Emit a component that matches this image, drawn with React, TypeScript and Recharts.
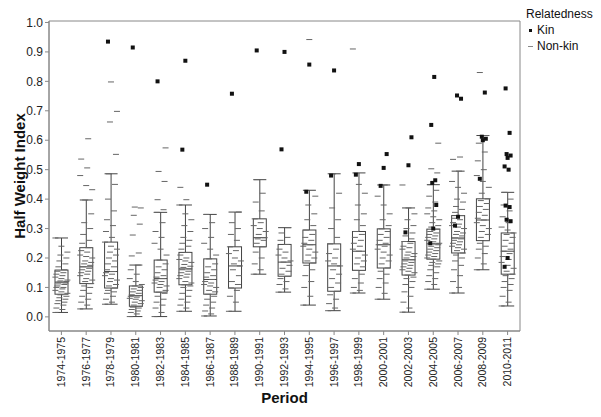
import React from 'react';
import { ComposedChart, Bar, Scatter, XAxis, YAxis, Legend, ReferenceArea } from 'recharts';

document.body.style.margin = '0';

const FONT = '"Liberation Sans", Arial, sans-serif';

const periods = [
  '1974-1975', '1976-1977', '1978-1979', '1980-1981', '1982-1983', '1984-1985', '1986-1987',
  '1988-1989', '1990-1991', '1992-1993', '1994-1995', '1996-1997', '1998-1999', '2000-2001',
  '2002-2003', '2004-2005', '2006-2007', '2008-2009', '2010-2011',
];

// box plot summary per period
const whiskerLow = [0.015, 0.027, 0.043, 0.001, 0.001, 0.019, 0.003, 0.019, 0.145, 0.084, 0.04, 0.021, 0.081, 0.06, 0.016, 0.094, 0.081, 0.16, 0.037];
const quart1 = [0.077, 0.113, 0.098, 0.036, 0.084, 0.109, 0.077, 0.098, 0.238, 0.138, 0.183, 0.087, 0.158, 0.166, 0.142, 0.196, 0.217, 0.259, 0.145];
const medians = [0.118, 0.17, 0.154, 0.072, 0.13, 0.163, 0.127, 0.173, 0.269, 0.186, 0.245, 0.173, 0.223, 0.245, 0.194, 0.248, 0.268, 0.329, 0.223];
const quart3 = [0.159, 0.235, 0.254, 0.105, 0.193, 0.219, 0.197, 0.238, 0.333, 0.246, 0.295, 0.248, 0.29, 0.299, 0.256, 0.298, 0.344, 0.401, 0.285];
const whiskerHigh = [0.268, 0.397, 0.486, 0.176, 0.355, 0.38, 0.348, 0.356, 0.466, 0.303, 0.43, 0.486, 0.489, 0.448, 0.37, 0.449, 0.495, 0.616, 0.423];

// non-kin dyads (grey dashes)
const nonKin: number[][] = [
  [0.015, 0.025, 0.03, 0.04, 0.045, 0.05, 0.055, 0.06, 0.065, 0.07, 0.075, 0.08, 0.085, 0.09, 0.095, 0.1, 0.1, 0.105, 0.11, 0.112, 0.115, 0.118, 0.12, 0.122, 0.125, 0.13, 0.135, 0.14, 0.145, 0.15, 0.155, 0.16, 0.17, 0.18, 0.19, 0.2, 0.21, 0.22, 0.24, 0.268],
  [0.027, 0.04, 0.05, 0.06, 0.07, 0.08, 0.09, 0.1, 0.105, 0.113, 0.12, 0.125, 0.13, 0.14, 0.145, 0.15, 0.155, 0.16, 0.165, 0.17, 0.175, 0.18, 0.185, 0.19, 0.2, 0.205, 0.21, 0.22, 0.225, 0.235, 0.25, 0.26, 0.28, 0.3, 0.32, 0.35, 0.397, 0.432, 0.446, 0.48, 0.506, 0.536, 0.605],
  [0.043, 0.05, 0.06, 0.07, 0.08, 0.085, 0.09, 0.098, 0.105, 0.11, 0.12, 0.125, 0.13, 0.14, 0.145, 0.15, 0.154, 0.16, 0.17, 0.18, 0.19, 0.2, 0.21, 0.22, 0.23, 0.24, 0.254, 0.27, 0.29, 0.31, 0.33, 0.36, 0.4, 0.45, 0.486, 0.552, 0.662, 0.698, 0.798],
  [0.001, 0.01, 0.015, 0.02, 0.025, 0.03, 0.033, 0.036, 0.04, 0.045, 0.05, 0.055, 0.06, 0.063, 0.067, 0.07, 0.072, 0.075, 0.08, 0.085, 0.09, 0.095, 0.1, 0.105, 0.11, 0.12, 0.13, 0.145, 0.16, 0.176, 0.207, 0.217, 0.278, 0.315, 0.345, 0.37, 0.373],
  [0.001, 0.015, 0.03, 0.04, 0.05, 0.06, 0.07, 0.08, 0.084, 0.09, 0.1, 0.105, 0.11, 0.115, 0.12, 0.125, 0.13, 0.135, 0.14, 0.15, 0.16, 0.17, 0.18, 0.193, 0.21, 0.23, 0.25, 0.27, 0.29, 0.32, 0.355, 0.364, 0.398, 0.46, 0.494, 0.574],
  [0.019, 0.03, 0.04, 0.05, 0.06, 0.07, 0.08, 0.09, 0.1, 0.105, 0.109, 0.115, 0.12, 0.13, 0.135, 0.14, 0.145, 0.15, 0.155, 0.16, 0.163, 0.168, 0.172, 0.178, 0.185, 0.19, 0.195, 0.2, 0.21, 0.219, 0.23, 0.24, 0.25, 0.26, 0.27, 0.29, 0.31, 0.33, 0.35, 0.38, 0.398, 0.44],
  [0.003, 0.01, 0.02, 0.03, 0.04, 0.05, 0.06, 0.07, 0.077, 0.085, 0.09, 0.1, 0.105, 0.11, 0.115, 0.12, 0.127, 0.135, 0.14, 0.15, 0.16, 0.17, 0.18, 0.197, 0.21, 0.23, 0.25, 0.27, 0.3, 0.32, 0.348],
  [0.019, 0.05, 0.07, 0.09, 0.098, 0.11, 0.12, 0.14, 0.16, 0.173, 0.18, 0.19, 0.2, 0.215, 0.225, 0.238, 0.26, 0.28, 0.3, 0.32, 0.356],
  [0.145, 0.16, 0.18, 0.2, 0.22, 0.238, 0.25, 0.26, 0.265, 0.269, 0.28, 0.29, 0.3, 0.31, 0.32, 0.333, 0.36, 0.39, 0.42, 0.466],
  [0.084, 0.095, 0.11, 0.12, 0.13, 0.138, 0.145, 0.155, 0.165, 0.175, 0.186, 0.19, 0.2, 0.21, 0.22, 0.23, 0.246, 0.26, 0.27, 0.285, 0.303],
  [0.04, 0.07, 0.1, 0.12, 0.14, 0.16, 0.175, 0.183, 0.19, 0.2, 0.21, 0.22, 0.23, 0.24, 0.245, 0.25, 0.26, 0.27, 0.28, 0.295, 0.31, 0.33, 0.35, 0.38, 0.41, 0.942],
  [0.021, 0.03, 0.045, 0.06, 0.075, 0.087, 0.1, 0.115, 0.13, 0.145, 0.16, 0.173, 0.18, 0.19, 0.2, 0.215, 0.23, 0.248, 0.27, 0.3, 0.33, 0.37, 0.42, 0.486],
  [0.081, 0.09, 0.1, 0.115, 0.13, 0.145, 0.158, 0.17, 0.18, 0.19, 0.2, 0.21, 0.223, 0.23, 0.24, 0.25, 0.26, 0.27, 0.28, 0.29, 0.31, 0.33, 0.35, 0.38, 0.42, 0.45, 0.91],
  [0.06, 0.08, 0.1, 0.115, 0.13, 0.145, 0.155, 0.166, 0.18, 0.19, 0.2, 0.21, 0.22, 0.23, 0.24, 0.245, 0.25, 0.26, 0.27, 0.28, 0.29, 0.299, 0.31, 0.33, 0.35, 0.38, 0.41, 0.448],
  [0.016, 0.03, 0.05, 0.07, 0.085, 0.1, 0.11, 0.12, 0.13, 0.135, 0.142, 0.15, 0.155, 0.16, 0.165, 0.17, 0.175, 0.18, 0.185, 0.19, 0.194, 0.2, 0.205, 0.21, 0.215, 0.22, 0.23, 0.235, 0.24, 0.25, 0.256, 0.265, 0.275, 0.285, 0.3, 0.31, 0.33, 0.35, 0.37, 0.448],
  [0.094, 0.11, 0.12, 0.13, 0.14, 0.15, 0.16, 0.17, 0.175, 0.18, 0.185, 0.19, 0.196, 0.2, 0.205, 0.21, 0.215, 0.22, 0.225, 0.23, 0.235, 0.24, 0.245, 0.248, 0.25, 0.255, 0.26, 0.265, 0.27, 0.275, 0.28, 0.285, 0.29, 0.298, 0.305, 0.31, 0.32, 0.33, 0.34, 0.35, 0.36, 0.37, 0.39, 0.41, 0.43, 0.449, 0.489, 0.503, 0.59],
  [0.081, 0.1, 0.12, 0.14, 0.16, 0.175, 0.19, 0.2, 0.21, 0.217, 0.225, 0.23, 0.235, 0.24, 0.245, 0.25, 0.255, 0.26, 0.265, 0.268, 0.275, 0.28, 0.285, 0.29, 0.3, 0.305, 0.31, 0.315, 0.32, 0.33, 0.335, 0.344, 0.355, 0.365, 0.375, 0.39, 0.4, 0.42, 0.44, 0.46, 0.495, 0.535, 0.543],
  [0.16, 0.18, 0.2, 0.215, 0.23, 0.24, 0.25, 0.259, 0.27, 0.28, 0.29, 0.3, 0.31, 0.32, 0.329, 0.335, 0.345, 0.355, 0.365, 0.375, 0.385, 0.395, 0.401, 0.42, 0.44, 0.46, 0.48, 0.5, 0.53, 0.56, 0.59, 0.616, 0.83],
  [0.037, 0.05, 0.07, 0.09, 0.1, 0.11, 0.12, 0.13, 0.14, 0.145, 0.155, 0.165, 0.175, 0.185, 0.195, 0.205, 0.215, 0.223, 0.23, 0.24, 0.25, 0.26, 0.27, 0.28, 0.285, 0.295, 0.305, 0.32, 0.34, 0.36, 0.38, 0.4, 0.423],
];

// kin dyads (black squares)
const kin: number[][] = [
  [], [], [0.935], [0.915], [0.8], [0.568, 0.87], [0.449], [0.758], [0.905], [0.569, 0.9],
  [0.425, 0.857], [0.48, 0.837], [0.483, 0.519], [0.445, 0.506, 0.553],
  [0.287, 0.515, 0.61], [0.25, 0.3, 0.38, 0.455, 0.464, 0.652, 0.815],
  [0.31, 0.34, 0.741, 0.752], [0.469, 0.6, 0.605, 0.612, 0.762],
  [0.17, 0.2, 0.325, 0.33, 0.373, 0.378, 0.5, 0.511, 0.54, 0.548, 0.553, 0.625, 0.776],
];

const yDomain = [-0.048, 1.005];
const yTicks = [0, 0.1, 0.2, 0.3, 0.4, 0.5, 0.6, 0.7, 0.8, 0.9, 1.0];

const boxData = periods.map((period, k) => ({
  period,
  range: [whiskerLow[k], whiskerHigh[k]],
  lo: whiskerLow[k],
  q1: quart1[k],
  med: medians[k],
  q3: quart3[k],
  hi: whiskerHigh[k],
}));

const nonKinPoints = periods.flatMap((period, k) => nonKin[k].map((value, i) => ({ period, value, i })));
const kinPoints = periods.flatMap((period, k) => kin[k].map((value, i) => ({ period, value, i })));

const BoxShape = (props: any) => {
  const { x, y, width, height, payload } = props;
  const k = height / (payload.hi - payload.lo);
  const py = (v: number) => y + (payload.hi - v) * k;
  const cx = x + width / 2;
  return (
    <g stroke="#444" strokeWidth={1} fill="none">
      <line x1={cx} x2={cx} y1={py(payload.hi)} y2={py(payload.q3)} />
      <line x1={cx} x2={cx} y1={py(payload.q1)} y2={py(payload.lo)} />
      <line x1={x} x2={x + width} y1={py(payload.hi)} y2={py(payload.hi)} />
      <line x1={x} x2={x + width} y1={py(payload.lo)} y2={py(payload.lo)} />
      <rect x={x} y={py(payload.q3)} width={width} height={py(payload.q1) - py(payload.q3)} />
      <line x1={x} x2={x + width} y1={py(payload.med)} y2={py(payload.med)} />
    </g>
  );
};

const DashShape = (props: any) => {
  const { cx, cy, payload } = props;
  const off = ((payload.i * 7) % 13) - 6;
  return <rect x={cx + off - 3} y={cy - 0.5} width={6} height={1} fill="#666" />;
};

const KinShape = (props: any) => {
  const { cx, cy, payload } = props;
  const off = ((payload.i * 3) % 7) - 3;
  return <rect x={cx + off - 2} y={cy - 2} width={4} height={4} fill="#111" />;
};

const PeriodTick = ({ x, y, payload }: any) => (
  <text
    x={x}
    y={y}
    transform={`rotate(-90, ${x}, ${y})`}
    textAnchor="end"
    dy={3.5}
    fontSize={10.5}
    fontFamily={FONT}
    fill="#222"
  >
    {payload.value}
  </text>
);

const LegendBox = () => (
  <div style={{ fontFamily: FONT, fontSize: 12, color: '#111', lineHeight: '16px' }}>
    <div>Relatedness</div>
    <div style={{ display: 'flex', alignItems: 'center' }}>
      <span style={{ display: 'inline-block', width: 3, height: 3, background: '#111', margin: '0 5px 0 3px' }} />
      Kin
    </div>
    <div style={{ display: 'flex', alignItems: 'center' }}>
      <span style={{ display: 'inline-block', width: 5, height: 1, background: '#888', margin: '0 4px 0 2px' }} />
      Non-kin
    </div>
  </div>
);

export default function App() {
  return (
    <ComposedChart
      width={601}
      height={417}
      data={boxData}
      margin={{ top: 21, right: 81, left: 0, bottom: 0 }}
      style={{ background: '#fff' }}
    >
      <XAxis
        dataKey="period"
        allowDuplicatedCategory={false}
        interval={0}
        height={86}
        tick={<PeriodTick />}
        tickSize={4}
        tickMargin={2}
        axisLine={{ stroke: '#888' }}
        tickLine={{ stroke: '#888' }}
        label={{
          content: ({ viewBox }: any) => (
            <text
              x={viewBox.x + viewBox.width / 2}
              y={viewBox.y + 72}
              textAnchor="middle"
              fontFamily={FONT}
              fontWeight="bold"
              fontSize={15}
              fill="#111"
            >
              Period
            </text>
          ),
        }}
      />
      <YAxis
        type="number"
        domain={yDomain}
        ticks={yTicks}
        allowDataOverflow
        width={49}
        tickSize={4}
        tickMargin={2}
        tickFormatter={(v: number) => v.toFixed(1)}
        tick={{ fontSize: 12, fontFamily: FONT, fill: '#222' }}
        axisLine={{ stroke: '#888' }}
        tickLine={{ stroke: '#888' }}
        label={{
          content: ({ viewBox }: any) => {
            const cx = viewBox.x + 25;
            const cy = viewBox.y + viewBox.height / 2;
            return (
              <text
                x={cx}
                y={cy}
                transform={`rotate(-90, ${cx}, ${cy})`}
                textAnchor="middle"
                fontFamily={FONT}
                fontWeight="bold"
                fontSize={15}
                fill="#111"
              >
                Half Weight Index
              </text>
            );
          },
        }}
      />
      <ReferenceArea
        x1={periods[0]}
        x2={periods[periods.length - 1]}
        y1={yDomain[0]}
        y2={yDomain[1]}
        fill="none"
        fillOpacity={0}
        stroke="#888"
        strokeWidth={1}
        ifOverflow="visible"
      />
      <Legend
        layout="horizontal"
        verticalAlign="middle"
        align="center"
        content={<LegendBox />}
        wrapperStyle={{ top: 6, left: 526, width: 75, height: 52 }}
      />
      <Bar dataKey="range" barSize={13} shape={<BoxShape />} isAnimationActive={false} />
      <Scatter data={nonKinPoints} dataKey="value" shape={<DashShape />} isAnimationActive={false} />
      <Scatter data={kinPoints} dataKey="value" shape={<KinShape />} isAnimationActive={false} />
    </ComposedChart>
  );
}
